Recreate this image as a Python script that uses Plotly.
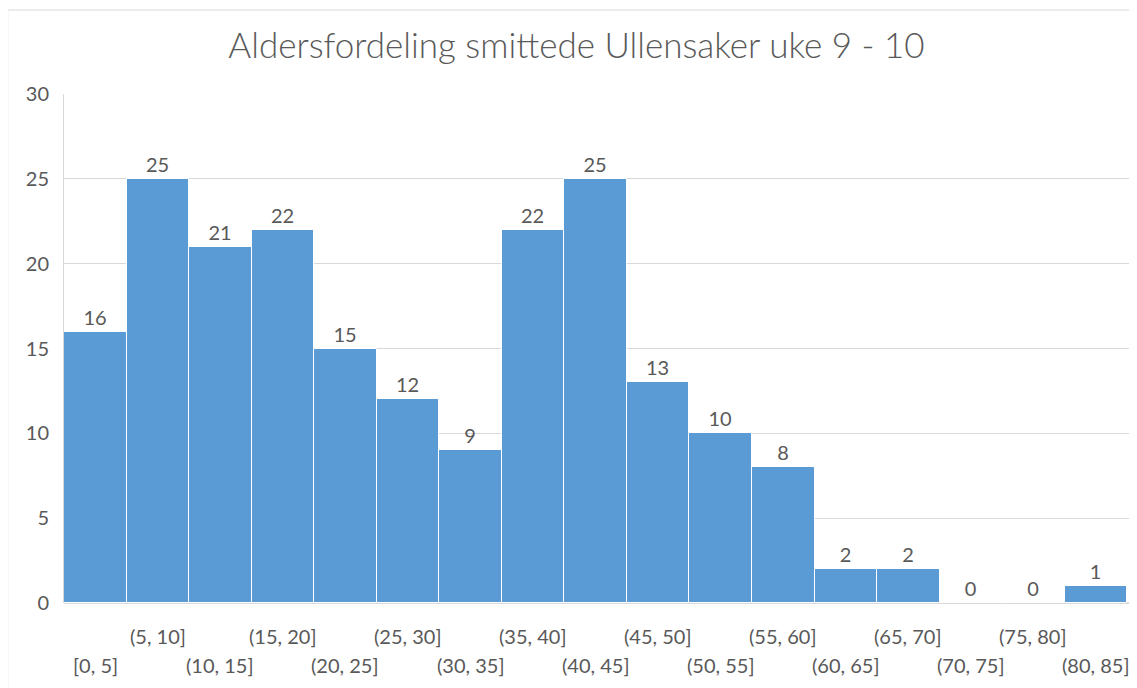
import plotly.graph_objects as go

categories = ["[0, 5]", "(5, 10]", "(10, 15]", "(15, 20]", "(20, 25]", "(25, 30]", "(30, 35]",
              "(35, 40]", "(40, 45]", "(45, 50]", "(50, 55]", "(55, 60]", "(60, 65]", "(65, 70]",
              "(70, 75]", "(75, 80]", "(80, 85]"]
counts = [16, 25, 21, 22, 15, 12, 9, 22, 25, 13, 10, 8, 2, 2, 0, 0, 1]
title = "Aldersfordeling smittede Ullensaker uke 9 - 10"

FONT = "Lato"
GREY = "#595959"

fig = go.Figure(go.Bar(
    x=categories, y=counts,
    marker=dict(color="#5B9BD5", line=dict(color="#FFFFFF", width=1)),
    text=[str(v) for v in counts], textposition="outside", cliponaxis=False,
    textfont=dict(family=FONT, size=20, color=GREY),
))

annotations = []
for i, c in enumerate(categories):
    annotations.append(dict(
        x=c, xref="x", yref="paper", y=(-0.065 if i % 2 == 1 else -0.122),
        text=c, showarrow=False, yanchor="middle",
        font=dict(family=FONT, size=20, color=GREY)))

fig.update_layout(
    width=1137, height=688,
    margin=dict(l=56, r=13, t=86, b=93),
    paper_bgcolor="white", plot_bgcolor="white",
    bargap=0,
    showlegend=False,
    title=dict(text=title, x=0.5, xanchor="center", y=0.945, yanchor="middle",
               font=dict(family=FONT, size=35, color=GREY, weight=300)),
    xaxis=dict(showticklabels=False, showgrid=False, showline=False, ticks=""),
    yaxis=dict(range=[0, 30], tickvals=[0, 5, 10, 15, 20, 25, 30], showgrid=True,
               gridcolor="#D9D9D9", gridwidth=1, zeroline=True, zerolinecolor="#D9D9D9",
               showline=True, linecolor="#D9D9D9", ticks="", ticklabelstandoff=10,
               tickfont=dict(family=FONT, size=20, color=GREY)),
    annotations=annotations,
    shapes=[dict(type="rect", xref="paper", yref="paper", x0=-0.0527, x1=1.05, y0=-0.3, y1=1.165,
                 line=dict(color="#D9D9D9", width=1), fillcolor="rgba(0,0,0,0)", layer="below")],
)

fig.write_html("out.html")
